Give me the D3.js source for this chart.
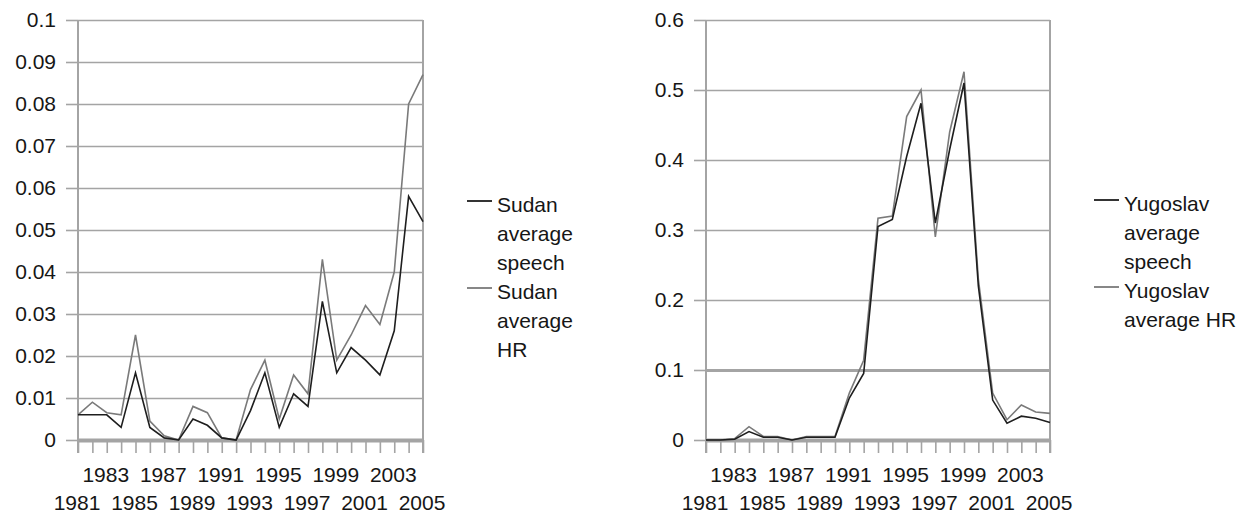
<!DOCTYPE html>
<html>
<head>
<meta charset="utf-8">
<script src="https://cdn.jsdelivr.net/npm/d3@7"></script>
<style>
  html, body { margin: 0; padding: 0; background: #fff; }
  svg { display: block; }
  text { font-family: "Liberation Sans", Arial, sans-serif; fill: #161616; }
</style>
</head>
<body>
<svg id="chart" width="1247" height="515"></svg>
<script>
// ---- data ----
const years = [1981,1982,1983,1984,1985,1986,1987,1988,1989,1990,1991,1992,1993,1994,1995,1996,1997,1998,1999,2000,2001,2002,2003,2004,2005];
const xLabelYears = [1981,1983,1985,1987,1989,1991,1993,1995,1997,1999,2001,2003,2005];

const sudanSpeech = [0.006,0.006,0.006,0.003,0.016,0.003,0.0005,0.0,0.005,0.0035,0.0005,0.0,0.007,0.016,0.003,0.011,0.008,0.033,0.016,0.022,0.019,0.0155,0.026,0.058,0.052];
const sudanHR     = [0.006,0.009,0.0065,0.006,0.025,0.0045,0.001,0.0,0.008,0.0065,0.0005,0.0,0.012,0.019,0.005,0.0155,0.011,0.043,0.019,0.025,0.032,0.0275,0.040,0.080,0.087];

const yugoSpeech = [0,0,0.001,0.012,0.004,0.004,0.0,0.004,0.004,0.004,0.06,0.095,0.305,0.315,0.405,0.481,0.31,0.415,0.51,0.22,0.057,0.024,0.034,0.031,0.025];
const yugoHR     = [0,0,0.002,0.019,0.005,0.005,0.0,0.005,0.005,0.005,0.067,0.114,0.317,0.32,0.462,0.5,0.29,0.44,0.526,0.23,0.067,0.029,0.05,0.04,0.038];

const leftTicks  = [0,0.01,0.02,0.03,0.04,0.05,0.06,0.07,0.08,0.09,0.1];
const leftTickLabels = ["0","0.01","0.02","0.03","0.04","0.05","0.06","0.07","0.08","0.09","0.1"];
const rightTicks = [0,0.1,0.2,0.3,0.4,0.5,0.6];
const rightTickLabels = ["0","0.1","0.2","0.3","0.4","0.5","0.6"];

const leftLegend  = [["Sudan","average","speech"],["Sudan","average","HR"]];
const rightLegend = [["Yugoslav","average","speech"],["Yugoslav","average HR"]];

// ---- styles ----
const SPEECH_COLOR = "#1e1e1e";
const HR_COLOR = "#7a7a7a";
const GRID_COLOR = "#a4a4a4";
const FONT_SIZE = 21;

const svg = d3.select("#chart");
svg.append("rect").attr("width",1247).attr("height",515).attr("fill","#fff");

function drawPanel(opts) {
  const g = svg.append("g");
  const x = d3.scaleLinear().domain([years[0], years[years.length-1]]).range([opts.x0, opts.x1]);
  const y = d3.scaleLinear().domain([0, opts.ymax]).range([opts.y0, opts.y1]);

  // gridlines
  const grid = g.append("g").attr("transform", `translate(${opts.x0},0)`)
    .call(d3.axisLeft(y).tickValues(opts.ticks).tickSize(-(opts.x1 - opts.x0)).tickFormat(""));
  grid.select(".domain").remove();
  grid.selectAll(".tick line")
    .attr("stroke", GRID_COLOR)
    .attr("stroke-width", (d) => d === 0 ? 4 : (opts.thick && opts.thick.includes(d) ? 3 : 1.6));

  // y axis with outer ticks + labels
  const ya = g.append("g").attr("transform", `translate(${opts.x0},0)`)
    .call(d3.axisLeft(y).tickValues(opts.ticks).tickSize(12).tickPadding(10)
      .tickFormat((d,i) => opts.tickLabels[i]));
  ya.select(".domain").remove();
  ya.selectAll(".tick line").attr("stroke", GRID_COLOR).attr("stroke-width", 1.6);
  ya.selectAll(".tick text").attr("font-size", FONT_SIZE).attr("font-family","Liberation Sans, Arial, sans-serif").attr("fill","#161616");

  // vertical axis line and right border
  g.append("line").attr("x1",opts.x0).attr("x2",opts.x0).attr("y1",opts.y1).attr("y2",opts.y0+13)
    .attr("stroke",GRID_COLOR).attr("stroke-width",2);
  g.append("line").attr("x1",opts.x1).attr("x2",opts.x1).attr("y1",opts.y1).attr("y2",opts.y0+13)
    .attr("stroke",GRID_COLOR).attr("stroke-width",2);

  // x axis ticks
  const xa = g.append("g").attr("transform", `translate(0,${opts.y0})`)
    .call(d3.axisBottom(x).tickValues(years).tickSize(13).tickFormat(""));
  xa.select(".domain").remove();
  xa.selectAll(".tick line").attr("stroke", GRID_COLOR).attr("stroke-width", 1.6);

  // x labels, staggered
  g.selectAll(".xl").data(xLabelYears).enter().append("text")
    .attr("x", d => x(d) - 1)
    .attr("y", (d,i) => i % 2 === 0 ? 510 : 482)
    .attr("text-anchor","middle")
    .attr("font-size", FONT_SIZE)
    .text(d => d);

  // lines
  const line = d3.line().x((d,i) => x(years[i])).y(d => y(d));
  g.append("path").datum(opts.hr).attr("d", line).attr("fill","none")
    .attr("stroke", HR_COLOR).attr("stroke-width", 1.6);
  g.append("path").datum(opts.speech).attr("d", line).attr("fill","none")
    .attr("stroke", SPEECH_COLOR).attr("stroke-width", 1.6);

  // legend
  const lg = g.append("g");
  const colors = [SPEECH_COLOR, HR_COLOR];
  let cy = opts.legendY;
  opts.legend.forEach((lines, k) => {
    lg.append("line").attr("x1", opts.legendX).attr("x2", opts.legendX + 25)
      .attr("y1", cy - 4).attr("y2", cy - 4)
      .attr("stroke", colors[k]).attr("stroke-width", 1.8);
    lines.forEach((t) => {
      lg.append("text").attr("x", opts.legendX + 30).attr("y", cy).attr("dy","0.35em")
        .attr("font-size", FONT_SIZE).text(t);
      cy += 29;
    });
  });
}

drawPanel({
  x0: 78, x1: 423, y0: 440, y1: 20, ymax: 0.1,
  ticks: leftTicks, tickLabels: leftTickLabels,
  speech: sudanSpeech, hr: sudanHR,
  legend: leftLegend, legendX: 467, legendY: 205
});

drawPanel({
  x0: 706, x1: 1050, y0: 440, y1: 20, ymax: 0.6,
  ticks: rightTicks, tickLabels: rightTickLabels, thick: [0.1],
  speech: yugoSpeech, hr: yugoHR,
  legend: rightLegend, legendX: 1094, legendY: 204
});
</script>
</body>
</html>
